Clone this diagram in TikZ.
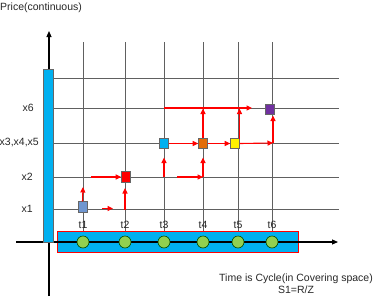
\documentclass[tikz,border=0pt]{standalone}
\usepackage{fontspec}
\setmainfont{Liberation Sans}
\usetikzlibrary{arrows.meta}
\definecolor{barblue}{HTML}{00B0F0}
\definecolor{ptgreen}{HTML}{92D050}
\definecolor{sqblue}{HTML}{6F96D0}
\definecolor{sqorange}{HTML}{E36C09}
\definecolor{sqpurple}{HTML}{7030A0}
\definecolor{gridgray}{HTML}{606060}
\begin{document}
\begin{tikzpicture}[x=1pt,y=-1pt,
  gridline/.style={gridgray,line width=0.6pt},
  axisline/.style={black,line width=1.1pt,-{Triangle[length=6pt,width=5pt]}},
  redarrow/.style={red,line width=1.1pt,-{Triangle[length=5.5pt,width=5pt]}},
  sq/.style={draw=black!60,line width=0.6pt,minimum width=9pt,minimum height=10.5pt,inner sep=0pt},
  pt/.style={circle,draw=black!70!green,fill=ptgreen,line width=0.6pt,minimum size=12pt,inner sep=0pt},
  lbl/.style={font=\fontsize{10.5}{12}\selectfont,inner sep=0pt,text=black!85}
]
\useasboundingbox (0,0) rectangle (374,297);
% coordinates for time columns and price rows
\foreach \n/\x in {1/83,2/125,3/164,4/203,5/238,6/272}{
  \coordinate (T\n) at (\x,242);
  \coordinate (G\n) at (\x,42);
}
% horizontal grid
\foreach \n/\y in {top/78,six/108,three/143,two/177,one/209}{
  \coordinate (L\n) at (53,\y);
  \coordinate (R\n) at (339,\y);
  \draw[gridline] (L\n) -- (R\n);
}
% vertical grid
\foreach \n in {1,...,6}{ \draw[gridline] (G\n) -- (T\n); }
% bottom band
\node[draw=red,fill=barblue,line width=1pt,minimum width=241pt,minimum height=21pt,inner sep=0pt] (band) at (177.5,241.5) {};
% axes
\coordinate (yb) at (49,296); \coordinate (yt) at (49,31);
\coordinate (xl) at (16,242); \coordinate (xr) at (338,242);
\draw[axisline] (yb) -- (yt);
\draw[axisline] (xl) -- (xr);
% left bar
\node[draw=black!60,fill=barblue,line width=0.6pt,minimum width=10pt,minimum height=173pt,inner sep=0pt] (bar) at (48,155.5) {};
% time points
\foreach \n in {1,...,6}{
  \node[pt] (c\n) at (T\n) {};
  \node[lbl] (t\n) at ([yshift=17pt]T\n) {t\n};
}
% y labels
\node[lbl,anchor=east] (ly6) at (34,108) {x6};
\node[lbl,anchor=east] (ly3) at (39,143) {x3,x4,x5};
\node[lbl,anchor=east] (ly2) at (33,177) {x2};
\node[lbl,anchor=east] (ly1) at (33,209) {x1};
\node[lbl,anchor=west] (title) at (0,8) {Price(continuous)};
\node[lbl,align=center] (cap) at (296,283.5) {Time is Cycle(in Covering space)\\S1=R/Z};
% squares
\node[sq,fill=sqblue] (s1) at (82.5,207) {};
\node[sq,fill=red] (s2) at (126,177) {};
\node[sq,fill=barblue] (s3) at (164,143.5) {};
\node[sq,fill=sqorange] (s4) at (203,143.5) {};
\node[sq,fill=yellow] (s5) at (235,143.5) {};
\node[sq,fill=sqpurple] (s6) at (269.5,109.5) {};
% arrow helper coordinates
\coordinate (a1e) at (83,187);
\coordinate (a2s) at (102,208.5); \coordinate (a2e) at (113,208.5);
\coordinate (a3s) at (91,177);
\coordinate (a4s) at (125,210); \coordinate (a4e) at (125,188);
\coordinate (a5s) at (164,177); \coordinate (a5e) at (164,157.5);
\coordinate (a6s) at (177,177); \coordinate (a6m) at (203,177); \coordinate (a6e) at (203,157.5);
\coordinate (a7s) at (164,108); \coordinate (a7e) at (252,108);
\coordinate (a8e) at (203,108.5);
\coordinate (a9s) at (239.5,138.5); \coordinate (a9e) at (239.5,108.5);
\coordinate (a10m) at (273,143); \coordinate (a10e) at (273,115.5);
% red arrows
\draw[redarrow] (s1.north) -- (a1e);
\draw[redarrow] (a2s) -- (a2e);
\draw[redarrow] (a3s) -- (s2.west);
\draw[redarrow] (a4s) -- (a4e);
\draw[redarrow] (a5s) -- (a5e);
\draw[redarrow] (a6s) -- (a6m);
\draw[redarrow] (a6m) -- (a6e);
\draw[redarrow] (a7s) -- (a7e);
\draw[redarrow] (s3.east) -- (s4.west);
\draw[redarrow] (s4.east) -- (s5.west);
\draw[redarrow] (s4.north) -- (a8e);
\draw[redarrow] (a9s) -- (a9e);
\draw[redarrow] (s5.east) -- (a10m);
\draw[redarrow] (a10m) -- (a10e);
\end{tikzpicture}
\end{document}
